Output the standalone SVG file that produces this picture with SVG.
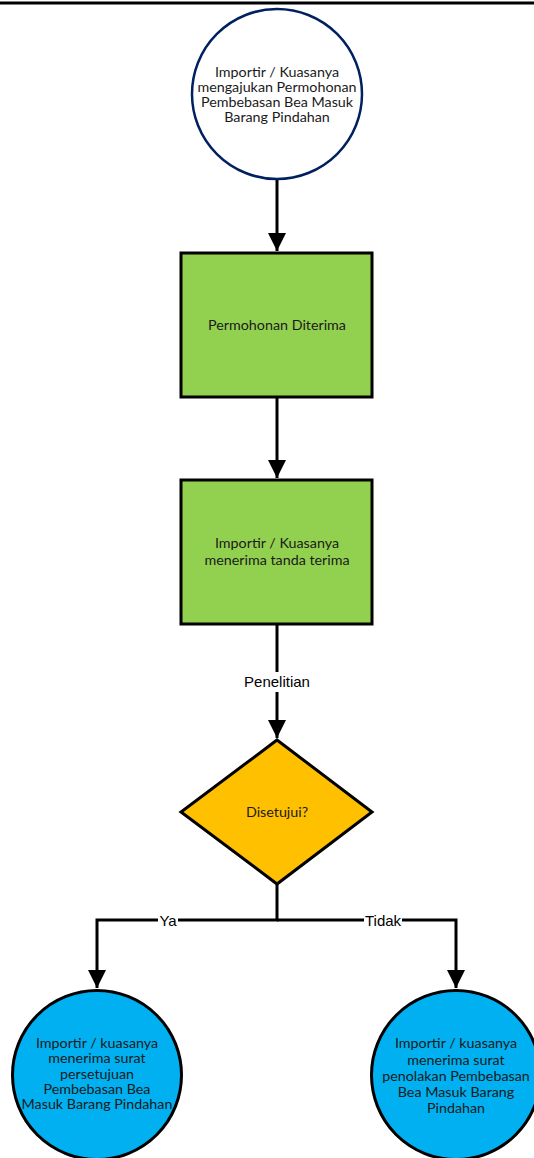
<svg xmlns="http://www.w3.org/2000/svg" width="534" height="1158" viewBox="0 0 534 1158">
<defs>
<style>
.node text{font-family:Lato,"Noto Sans",sans-serif;font-size:14.3px;fill:#1a1a1a;text-anchor:middle}
.lbl{font-family:"Liberation Sans",Arial,sans-serif;font-size:15px;fill:#000;text-anchor:middle}
.edge{fill:none;stroke:#000;stroke-width:3}
.box{fill:#92D050;stroke:#000;stroke-width:3}
</style>
<marker id="arr" markerWidth="6" markerHeight="6" refX="6" refY="3" orient="auto" markerUnits="strokeWidth">
<path d="M0,0 L6,3 L0,6 z" fill="#000"/>
</marker>
</defs>
<rect width="534" height="1158" fill="#fff"/>
<line x1="0" y1="3" x2="534" y2="3" stroke="#000" stroke-width="3"/>
<g id="connectors">
<line class="edge" x1="277" y1="180" x2="277" y2="251" marker-end="url(#arr)"/>
<line class="edge" x1="277" y1="398" x2="277" y2="478" marker-end="url(#arr)"/>
<line class="edge" x1="277" y1="625" x2="277" y2="738" marker-end="url(#arr)"/>
<polyline class="edge" points="277,885 277,920 97,920 97,988" marker-end="url(#arr)"/>
<polyline class="edge" points="277,920 456,920 456,988" marker-end="url(#arr)"/>
<rect x="240" y="672" width="74" height="20" fill="#fff"/>
<text class="lbl" x="277" y="687">Penelitian</text>
<rect x="158" y="911" width="20" height="18" fill="#fff"/>
<text class="lbl" x="168" y="926">Ya</text>
<rect x="364" y="911" width="38" height="18" fill="#fff"/>
<text class="lbl" x="383" y="926">Tidak</text>
</g>
<g id="start" class="node">
<circle cx="277" cy="94" r="85" fill="#fff" stroke="#002060" stroke-width="2.5"/>
<text x="277" y="77">Importir / Kuasanya</text>
<text x="277" y="92">mengajukan Permohonan</text>
<text x="277" y="107">Pembebasan Bea Masuk</text>
<text x="277" y="122">Barang Pindahan</text>
</g>
<g id="diterima" class="node">
<rect class="box" x="181" y="253" width="191" height="144"/>
<text x="277" y="330">Permohonan Diterima</text>
</g>
<g id="tandaterima" class="node">
<rect class="box" x="181" y="480" width="191" height="144"/>
<text x="277" y="548">Importir / Kuasanya</text>
<text x="277" y="565">menerima tanda terima</text>
</g>
<g id="disetujui" class="node">
<polygon points="277,740 372,812 277,884 181,812" fill="#FFC000" stroke="#000" stroke-width="3"/>
<text x="277" y="817">Disetujui?</text>
</g>
<g id="ya" class="node">
<circle cx="97" cy="1075" r="84.5" fill="#00B0F0" stroke="#000" stroke-width="3"/>
<text x="97" y="1048">Importir / kuasanya</text>
<text x="97" y="1063">menerima surat</text>
<text x="97" y="1079">persetujuan</text>
<text x="97" y="1094">Pembebasan Bea</text>
<text x="97" y="1109">Masuk Barang Pindahan</text>
</g>
<g id="tidak" class="node">
<circle cx="456" cy="1075" r="84.5" fill="#00B0F0" stroke="#000" stroke-width="3"/>
<text x="456" y="1048">Importir / kuasanya</text>
<text x="456" y="1065">menerima surat</text>
<text x="456" y="1081">penolakan Pembebasan</text>
<text x="456" y="1097">Bea Masuk Barang</text>
<text x="456" y="1113">Pindahan</text>
</g>
</svg>
